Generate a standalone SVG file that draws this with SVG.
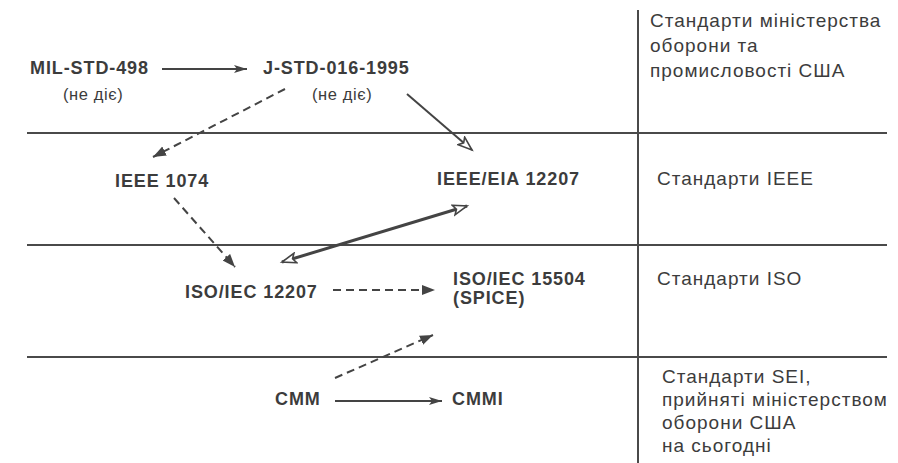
<svg xmlns="http://www.w3.org/2000/svg" width="898" height="463" viewBox="0 0 898 463">
<style>
.n{font-family:"Liberation Sans",Arial,sans-serif;font-weight:bold;font-size:18px;letter-spacing:0.9px;fill:#3c3c3c}
.s{font-family:"Liberation Sans",Arial,sans-serif;font-size:16.5px;letter-spacing:0.6px;fill:#3c3c3c}
.l{font-family:"Liberation Sans",Arial,sans-serif;font-size:19px;letter-spacing:1px;fill:#3c3c3c}
.grid{stroke:#4a4a4a;stroke-width:2;fill:none}
.c{stroke:#444;fill:none;stroke-width:2}
.d{stroke-dasharray:8 5}
.thick{stroke-width:3}
</style>
<defs>
<marker id="barb" markerUnits="userSpaceOnUse" markerWidth="14" markerHeight="10" refX="13" refY="4" orient="auto"><path d="M0,0 L13,4 L0,8 L3,4 z" fill="#444"/></marker>
<marker id="tri" markerUnits="userSpaceOnUse" markerWidth="14" markerHeight="12" refX="13" refY="5" orient="auto"><path d="M0,0 L13,5 L0,10 z" fill="#444"/></marker>
<marker id="open" markerUnits="userSpaceOnUse" markerWidth="18" markerHeight="14" refX="15" refY="6" orient="auto-start-reverse"><path d="M1,1 L15,6 L1,11 L4,6 z" fill="#fff" stroke="#444" stroke-width="1.6"/></marker>
</defs>
<rect width="898" height="463" fill="#fff"/>
<g id="grid">
<line class="grid" x1="27" y1="133" x2="887" y2="133"/>
<line class="grid" x1="27" y1="245" x2="887" y2="245"/>
<line class="grid" x1="27" y1="357" x2="887" y2="357"/>
<line class="grid" x1="638" y1="10" x2="638" y2="463"/>
</g>
<g id="connectors">
<line class="c" x1="162" y1="69" x2="247" y2="69" marker-end="url(#barb)"/>
<line class="c d" x1="285" y1="89" x2="153" y2="157" marker-end="url(#tri)"/>
<line class="c" stroke-width="2.5" x1="407" y1="94" x2="472" y2="150" marker-end="url(#open)"/>
<line class="c d" x1="174" y1="198" x2="235" y2="267" marker-end="url(#tri)"/>
<line class="c thick" x1="282" y1="262" x2="467" y2="206" marker-start="url(#open)" marker-end="url(#open)"/>
<line class="c d" x1="333" y1="290" x2="435" y2="290" marker-end="url(#tri)"/>
<line class="c d" x1="335" y1="378" x2="433" y2="335" marker-end="url(#tri)"/>
<line class="c" x1="335" y1="401" x2="442" y2="401" marker-end="url(#barb)"/>
</g>
<g id="mil-std-498"><text class="n" x="30" y="74">MIL-STD-498</text><text class="s" x="63" y="100">(не діє)</text></g>
<g id="j-std-016"><text class="n" x="263" y="74">J-STD-016-1995</text><text class="s" x="312" y="100">(не діє)</text></g>
<g id="ieee-1074"><text class="n" x="115" y="187">IEEE 1074</text></g>
<g id="ieee-eia-12207"><text class="n" x="437" y="185">IEEE/EIA 12207</text></g>
<g id="iso-12207"><text class="n" x="185" y="298">ISO/IEC 12207</text></g>
<g id="iso-15504"><text class="n" x="453" y="285">ISO/IEC 15504</text><text class="n" x="453" y="304">(SPICE)</text></g>
<g id="cmm"><text class="n" x="275" y="405">CMM</text></g>
<g id="cmmi"><text class="n" x="452" y="405">CMMI</text></g>
<g id="lane-dod"><text class="l" x="650" y="27">Стандарти міністерства</text><text class="l" x="650" y="52">оборони та</text><text class="l" x="650" y="77">промисловості США</text></g>
<g id="lane-ieee"><text class="l" x="657" y="185">Стандарти IEEE</text></g>
<g id="lane-iso"><text class="l" x="657" y="285">Стандарти ISO</text></g>
<g id="lane-sei"><text class="l" x="662" y="383">Стандарти SEI,</text><text class="l" x="662" y="406">прийняті міністерством</text><text class="l" x="662" y="429">оборони США</text><text class="l" x="662" y="452">на сьогодні</text></g>
</svg>
